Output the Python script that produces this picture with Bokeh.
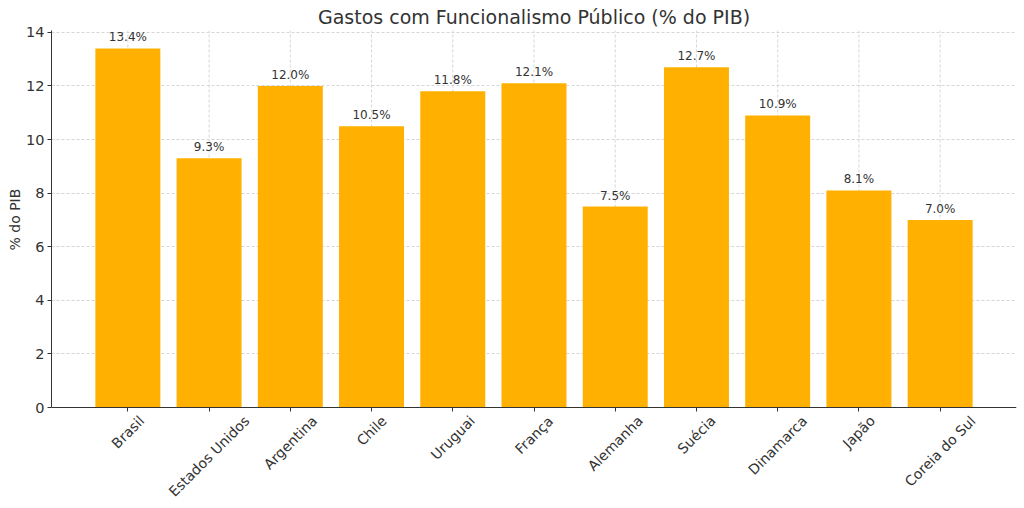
from bokeh.plotting import figure
from bokeh.models import Range1d, FixedTicker, ColumnDataSource, Title
from bokeh.core.properties import value
from bokeh.embed import file_html
from bokeh.resources import INLINE
import math

paises = ["Brasil", "Estados Unidos", "Argentina", "Chile", "Uruguai", "França",
          "Alemanha", "Suécia", "Dinamarca", "Japão", "Coreia do Sul"]
gastos = [13.4, 9.3, 12.0, 10.5, 11.8, 12.1, 7.5, 12.7, 10.9, 8.1, 7.0]
y_ticks = [0, 2, 4, 6, 8, 10, 12, 14]

FONT = "DejaVu Sans"
TXT = "#333333"
XFS = 14.0  # x tick label font size in px
Y_TOP = 14.07

# approximate DejaVu Sans advance widths (units per em = 2048), for label layout
_W = {" ": 651, "A": 1401, "B": 1405, "C": 1430, "D": 1577, "E": 1294, "F": 1178,
      "J": 604, "S": 1300, "U": 1499, "a": 1255, "b": 1300, "c": 1126, "d": 1300,
      "e": 1260, "g": 1300, "h": 1298, "i": 569, "l": 569, "m": 1995, "n": 1298,
      "o": 1253, "p": 1300, "r": 842, "s": 1067, "t": 803, "u": 1298, "ç": 1126,
      "é": 1260, "ã": 1255}


def text_width(s, fs):
    return sum(_W.get(ch, 1250) for ch in s) / 2048.0 * fs


idx = list(range(len(paises)))
n = len(idx)
src = ColumnDataSource(dict(x=idx, top=gastos, lab=[f"{v:.1f}%" for v in gastos]))

# rotated tick labels: bounding box centred under the tick (matplotlib style)
h = 1.164 * XFS
pad = 5.0
offs = [pad + (text_width(s, XFS) + h) / (2 * math.sqrt(2)) for s in paises]
lsrc = ColumnDataSource(dict(x=idx, y=[0] * n, name=paises, off=offs))
gsrc = ColumnDataSource(dict(x=idx, y0=[0] * n, y1=[Y_TOP] * n))

# layout (pixels): frame top at 30, value 0 at 407, frame extended to 500 to hold labels
W, H = 1024, 508
TOP, LEFT, RIGHT, BOTTOM = 30, 51, 8, 8
PLOT_PX = 377.0
EXTRA_PX = (H - BOTTOM - TOP) - PLOT_PX
y_start = -EXTRA_PX * Y_TOP / PLOT_PX

p = figure(width=W, height=H, output_backend="svg", toolbar_location=None,
           x_range=Range1d(-0.94, n - 1 + 0.94), y_range=Range1d(y_start, Y_TOP),
           min_border_left=LEFT, min_border_right=RIGHT, min_border_bottom=BOTTOM,
           min_border_top=TOP)

p.title.text = "Gastos com Funcionalismo Público (% do PIB)"
p.title.align = "center"
p.title.text_font = FONT
p.title.text_font_size = "19px"
p.title.text_font_style = "normal"
p.title.text_color = TXT
p.title.standoff = 6

# vertical grid lines (only over the value area)
p.segment(x0="x", y0="y0", x1="x", y1="y1", source=gsrc, line_color="#cccccc",
          line_dash="3 2", line_width=0.8, level="underlay")

p.vbar(x="x", top="top", width=0.8, source=src, fill_color="#FFB000", line_color=None)
p.text(x="x", y="top", text="lab", source=src, text_align="center", text_baseline="bottom",
       y_offset=-4, text_font=value(FONT), text_font_size="12px", text_color=TXT)

# x tick labels
p.text(x="x", y="y", text="name", source=lsrc, angle=math.pi / 4,
       text_align="center", text_baseline="middle", y_offset="off",
       text_font=value(FONT), text_font_size=f"{XFS}px", text_color=TXT)

p.outline_line_color = None
p.background_fill_color = "white"

for ax in (p.xaxis[0], p.yaxis[0]):
    ax.major_label_text_font = FONT
    ax.major_label_text_font_size = "14.5px"
    ax.major_label_text_color = TXT
    ax.axis_line_color = "#333333"
    ax.major_tick_line_color = "#333333"
    ax.major_tick_out = 4
    ax.major_tick_in = 0
    ax.minor_tick_line_color = None

p.xaxis.ticker = FixedTicker(ticks=idx)
p.xaxis.major_label_overrides = {i: "" for i in idx}
p.xaxis.major_label_text_font_size = "0px"
p.xaxis.fixed_location = 0
p.xaxis.major_label_standoff = 0

p.yaxis.ticker = FixedTicker(ticks=y_ticks)
p.yaxis.bounds = (0, Y_TOP)
p.yaxis.major_label_standoff = 3

# y axis title, centred on the value area (0..14) rather than the extended frame
ylab = Title(text="% do PIB", align="left", offset=250, standoff=2,
             text_font=FONT, text_font_size="14px", text_font_style="normal",
             text_color=TXT)
p.add_layout(ylab, "left")

p.xgrid.visible = False
g = p.ygrid[0]
g.grid_line_color = "#cccccc"
g.grid_line_dash = "3 2"
g.grid_line_width = 0.8
g.level = "underlay"
g.ticker = FixedTicker(ticks=y_ticks)

open("out.html", "w").write(file_html(p, INLINE))
